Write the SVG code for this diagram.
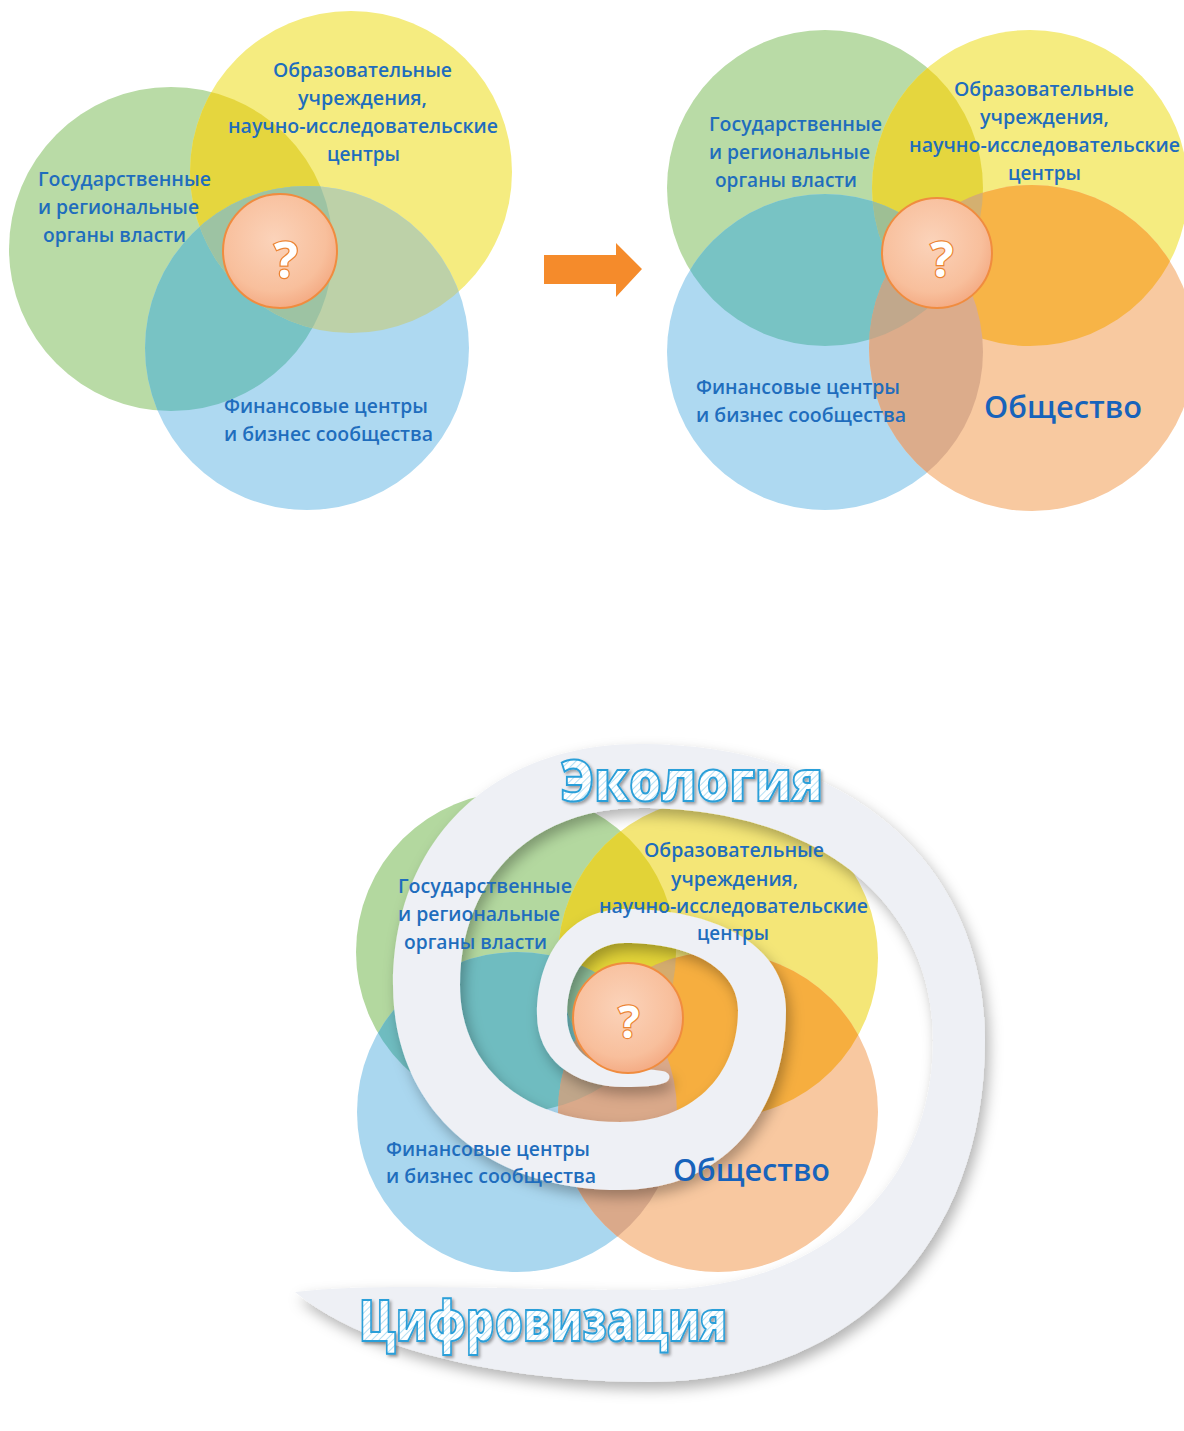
<svg xmlns="http://www.w3.org/2000/svg" width="1184" height="1431" viewBox="0 0 1184 1431">
<defs>
<style>
.lbl{font-family:"Open Sans","Noto Sans","DejaVu Sans",sans-serif;font-size:20px;font-weight:600;fill:#1f6dbd;}
.big{font-family:"Open Sans","Noto Sans","DejaVu Sans",sans-serif;font-size:30px;font-weight:600;fill:#1763bb;}
.q{font-family:"Open Sans","Noto Sans","DejaVu Sans",sans-serif;font-weight:700;fill:#ffffff;stroke:#ec8433;stroke-width:2.5;paint-order:stroke fill;text-anchor:middle;}
.word{font-family:"Open Sans","Noto Sans","DejaVu Sans",sans-serif;font-size:56px;font-weight:800;fill:url(#hatch);stroke:#2a9fd9;stroke-width:2;filter:url(#wshadow);}
.qc{fill:url(#qgrad);stroke:#f08c3f;stroke-width:2;}
.g{fill:#b9dba6;} .y{fill:#f5ec80;} .b{fill:#aed9f1;} .o{fill:#f8c9a0;}
.gy{fill:#e5d63e;} .gb{fill:#78c3c4;} .yb{fill:#bdd1a8;} .yo{fill:#f7b447;} .bo{fill:#dcac8b;}
.band{fill:#eef0f5;filter:url(#bshadow);}
</style>
<radialGradient id="qgrad" cx="0.45" cy="0.4" r="0.65">
<stop offset="0" stop-color="#fbd3ba"/>
<stop offset="0.7" stop-color="#f8bf9c"/>
<stop offset="1" stop-color="#f3a67e"/>
</radialGradient>
<pattern id="hatch" width="5" height="5" patternUnits="userSpaceOnUse" patternTransform="rotate(45)">
<rect width="5" height="5" fill="#ffffff"/>
<line x1="0" y1="0" x2="0" y2="5" stroke="#b3dff4" stroke-width="2"/>
</pattern>
<filter id="wshadow" x="-10%" y="-20%" width="120%" height="150%">
<feDropShadow dx="2" dy="2" stdDeviation="1.5" flood-color="#000" flood-opacity="0.35"/>
</filter>
<filter id="bshadow" x="-20%" y="-20%" width="140%" height="140%">
<feDropShadow dx="4" dy="7" stdDeviation="7" flood-color="#000" flood-opacity="0.3"/>
</filter>
<clipPath id="c1g"><circle cx="171" cy="249" r="162"/></clipPath>
<clipPath id="c1y"><circle cx="351" cy="172" r="161"/></clipPath>
<clipPath id="c2g"><circle cx="825" cy="188" r="158"/></clipPath>
<clipPath id="c2y"><circle cx="1030" cy="188" r="158"/></clipPath>
<clipPath id="c2b"><circle cx="825" cy="352" r="158"/></clipPath>
<clipPath id="c3g"><circle cx="516" cy="952" r="160"/></clipPath>
<clipPath id="c3y"><circle cx="718" cy="958" r="160"/></clipPath>
<clipPath id="c3b"><circle cx="517" cy="1112" r="160"/></clipPath>
</defs>

<!-- Diagram 1 -->
<g id="d1-circles">
<circle id="d1-gov" class="g" cx="171" cy="249" r="162"/>
<circle id="d1-edu" class="y" cx="351" cy="172" r="161"/>
<circle id="d1-fin" class="b" cx="307" cy="348" r="162"/>
<circle class="gy" cx="351" cy="172" r="161" clip-path="url(#c1g)"/>
<circle class="gb" cx="307" cy="348" r="162" clip-path="url(#c1g)"/>
<circle class="yb" cx="307" cy="348" r="162" clip-path="url(#c1y)"/>
<g clip-path="url(#c1g)"><circle fill="#9dc3a3" cx="307" cy="348" r="162" clip-path="url(#c1y)"/></g>
</g>
<g id="d1-center">
<circle class="qc" cx="280" cy="251" r="57"/>
<text class="q" x="286" y="278" font-size="50">?</text>
</g>
<g id="d1-node-edu">
<text class="lbl" x="273" y="77" textLength="179" lengthAdjust="spacingAndGlyphs">Образовательные</text>
<text class="lbl" x="298" y="105" textLength="129" lengthAdjust="spacingAndGlyphs">учреждения,</text>
<text class="lbl" x="228" y="133" textLength="270" lengthAdjust="spacingAndGlyphs">научно-исследовательские</text>
<text class="lbl" x="327" y="161" textLength="73" lengthAdjust="spacingAndGlyphs">центры</text>
</g>
<g id="d1-node-gov">
<text class="lbl" x="38" y="186" textLength="173" lengthAdjust="spacingAndGlyphs">Государственные</text>
<text class="lbl" x="38" y="214" textLength="161" lengthAdjust="spacingAndGlyphs">и региональные</text>
<text class="lbl" x="43" y="242" textLength="143" lengthAdjust="spacingAndGlyphs">органы власти</text>
</g>
<g id="d1-node-fin">
<text class="lbl" x="224" y="413" textLength="204" lengthAdjust="spacingAndGlyphs">Финансовые центры</text>
<text class="lbl" x="224" y="441" textLength="209" lengthAdjust="spacingAndGlyphs">и бизнес сообщества</text>
</g>

<!-- Connector arrow -->
<g id="connectors">
<polygon points="544,255 616,255 616,243 642,269 616,297 616,284 544,284" fill="#f58b2b"/>
</g>

<!-- Diagram 2 -->
<g id="d2-circles">
<circle id="d2-gov" class="g" cx="825" cy="188" r="158"/>
<circle id="d2-edu" class="y" cx="1030" cy="188" r="158"/>
<circle id="d2-fin" class="b" cx="825" cy="352" r="158"/>
<circle id="d2-soc" class="o" cx="1032" cy="348" r="163"/>
<circle class="gy" cx="1030" cy="188" r="158" clip-path="url(#c2g)"/>
<circle class="gb" cx="825" cy="352" r="158" clip-path="url(#c2g)"/>
<circle fill="#b9c9a0" cx="825" cy="352" r="158" clip-path="url(#c2y)"/>
<g clip-path="url(#c2g)"><circle fill="#9ebf94" cx="825" cy="352" r="158" clip-path="url(#c2y)"/></g>
<circle class="yo" cx="1032" cy="348" r="163" clip-path="url(#c2y)"/>
<circle class="bo" cx="1032" cy="348" r="163" clip-path="url(#c2b)"/>
<g clip-path="url(#c2g)"><circle fill="#d4b070" cx="1032" cy="348" r="163" clip-path="url(#c2y)"/></g>
<g clip-path="url(#c2g)"><circle fill="#c1a88c" cx="1032" cy="348" r="163" clip-path="url(#c2b)"/></g>
</g>
<g id="d2-center">
<circle class="qc" cx="937" cy="253" r="55"/>
<text class="q" x="942" y="277" font-size="48">?</text>
</g>
<g id="d2-node-gov">
<text class="lbl" x="709" y="131" textLength="173" lengthAdjust="spacingAndGlyphs">Государственные</text>
<text class="lbl" x="709" y="159" textLength="161" lengthAdjust="spacingAndGlyphs">и региональные</text>
<text class="lbl" x="715" y="187" textLength="142" lengthAdjust="spacingAndGlyphs">органы власти</text>
</g>
<g id="d2-node-edu">
<text class="lbl" x="954" y="96" textLength="180" lengthAdjust="spacingAndGlyphs">Образовательные</text>
<text class="lbl" x="980" y="124" textLength="129" lengthAdjust="spacingAndGlyphs">учреждения,</text>
<text class="lbl" x="909" y="152" textLength="271" lengthAdjust="spacingAndGlyphs">научно-исследовательские</text>
<text class="lbl" x="1008" y="180" textLength="73" lengthAdjust="spacingAndGlyphs">центры</text>
</g>
<g id="d2-node-fin">
<text class="lbl" x="696" y="394" textLength="204" lengthAdjust="spacingAndGlyphs">Финансовые центры</text>
<text class="lbl" x="696" y="422" textLength="210" lengthAdjust="spacingAndGlyphs">и бизнес сообщества</text>
</g>
<g id="d2-node-soc">
<text class="big" x="984" y="418" textLength="158" lengthAdjust="spacingAndGlyphs">Общество</text>
</g>

<!-- Diagram 3 -->
<g id="d3-circles">
<circle id="d3-gov" fill="#b3d89f" cx="516" cy="952" r="160"/>
<circle id="d3-edu" fill="#f4e677" cx="718" cy="958" r="160"/>
<circle id="d3-fin" fill="#aad7ef" cx="517" cy="1112" r="160"/>
<circle id="d3-soc" fill="#f8c8a0" cx="718" cy="1112" r="160"/>
<circle fill="#e2d337" cx="718" cy="958" r="160" clip-path="url(#c3g)"/>
<circle fill="#6fbcc0" cx="517" cy="1112" r="160" clip-path="url(#c3g)"/>
<circle fill="#b9c9a0" cx="517" cy="1112" r="160" clip-path="url(#c3y)"/>
<g clip-path="url(#c3g)"><circle fill="#8fbf9a" cx="517" cy="1112" r="160" clip-path="url(#c3y)"/></g>
<circle fill="#f6ae3f" cx="718" cy="1112" r="160" clip-path="url(#c3y)"/>
<circle fill="#daa98a" cx="718" cy="1112" r="160" clip-path="url(#c3b)"/>
<g clip-path="url(#c3g)"><circle fill="#d4ac6e" cx="718" cy="1112" r="160" clip-path="url(#c3y)"/></g>
<g clip-path="url(#c3g)"><circle fill="#c0a68a" cx="718" cy="1112" r="160" clip-path="url(#c3b)"/></g>
</g>
<g id="spiral">
<path class="band" d="M 295 1292 C 370 1355 520 1382 650 1382 C 851 1382 985 1245 985 1040 C 985 862 847 744 640 744 C 492 744 393 840 393 985 C 393 1108 484 1190 620 1190 C 720 1190 786 1118 786 1010 C 786 949 722 909 625 909 C 572 909 537 951 537 1015 C 537 1058 572 1087 625 1087 C 642 1087 656 1086 664 1083 C 672 1080 671 1072 662 1071 C 650 1069 638 1069 625 1069 C 590 1069 567 1047 567 1015 C 567 972 590 943 625 943 C 693 943 738 970 738 1010 C 738 1077 691 1122 620 1122 C 524 1122 460 1067 460 985 C 460 879 532 808 640 808 C 816 808 933 901 933 1040 C 933 1190 820 1290 650 1290 C 520 1290 380 1282 295 1292 Z"/>
</g>
<g id="d3-center">
<circle class="qc" cx="628" cy="1018" r="55"/>
<text class="q" x="629" y="1038" font-size="44">?</text>
</g>
<g id="d3-node-edu">
<text class="lbl" x="644" y="857" textLength="180" lengthAdjust="spacingAndGlyphs">Образовательные</text>
<text class="lbl" x="671" y="886" textLength="127" lengthAdjust="spacingAndGlyphs">учреждения,</text>
<text class="lbl" x="599" y="913" textLength="269" lengthAdjust="spacingAndGlyphs">научно-исследовательские</text>
<text class="lbl" x="697" y="940" textLength="72" lengthAdjust="spacingAndGlyphs">центры</text>
</g>
<g id="d3-node-gov">
<text class="lbl" x="398" y="893" textLength="174" lengthAdjust="spacingAndGlyphs">Государственные</text>
<text class="lbl" x="398" y="921" textLength="162" lengthAdjust="spacingAndGlyphs">и региональные</text>
<text class="lbl" x="404" y="949" textLength="143" lengthAdjust="spacingAndGlyphs">органы власти</text>
</g>
<g id="d3-node-fin">
<text class="lbl" x="386" y="1156" textLength="204" lengthAdjust="spacingAndGlyphs">Финансовые центры</text>
<text class="lbl" x="386" y="1183" textLength="210" lengthAdjust="spacingAndGlyphs">и бизнес сообщества</text>
</g>
<g id="d3-node-soc">
<text class="big" x="673" y="1181" textLength="157" lengthAdjust="spacingAndGlyphs">Общество</text>
</g>
<g id="d3-node-eco">
<text class="word" x="560" y="801" textLength="263" lengthAdjust="spacingAndGlyphs">Экология</text>
</g>
<g id="d3-node-dig">
<text class="word" x="359" y="1341" textLength="368" lengthAdjust="spacingAndGlyphs">Цифровизация</text>
</g>
</svg>
